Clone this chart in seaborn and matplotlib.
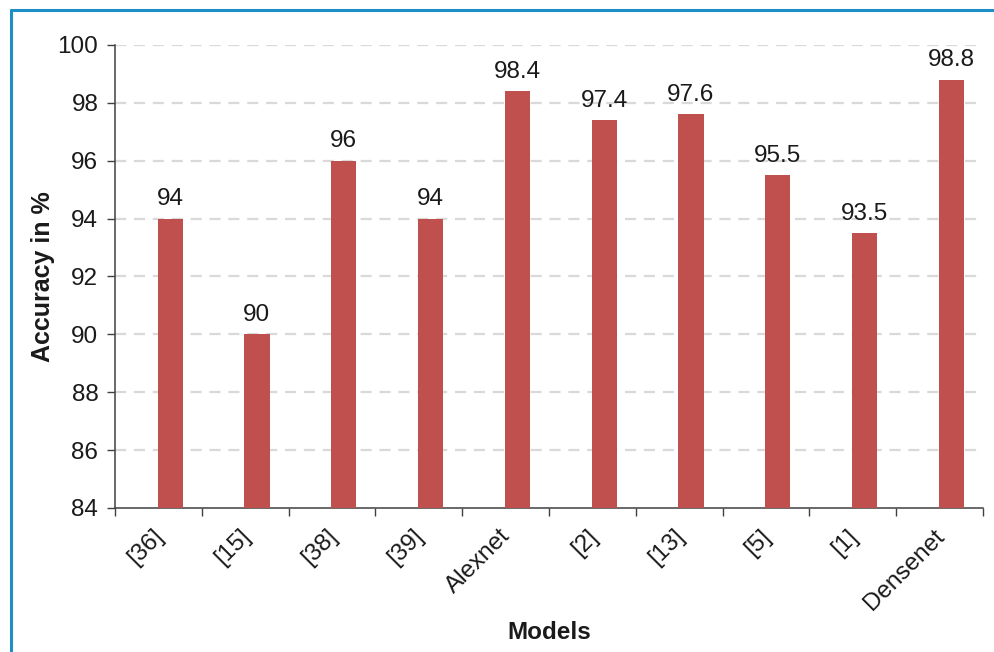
import matplotlib
matplotlib.use("Agg")
import matplotlib.pyplot as plt
from matplotlib.lines import Line2D
import numpy as np
import pandas as pd
import seaborn as sns

models = ["[36]", "[15]", "[38]", "[39]", "Alexnet", "[2]", "[13]", "[5]", "[1]", "Densenet"]
accuracy = [94, 90, 96, 94, 98.4, 97.4, 97.6, 95.5, 93.5, 98.8]
value_labels = ["94", "90", "96", "94", "98.4", "97.4", "97.6", "95.5", "93.5", "98.8"]
y_ticks = [84, 86, 88, 90, 92, 94, 96, 98, 100]

sns.set_theme(style="white")
plt.rcParams["font.family"] = ["Liberation Sans", "DejaVu Sans"]

FS = 17.5
TXT = "#1a1a1a"

df = pd.DataFrame({"Models": models, "Accuracy": accuracy})

fig = plt.figure(figsize=(9.94, 6.52), dpi=100)
ax = fig.add_axes([0.1157, 0.2209, 0.8733, 0.7101])

sns.barplot(data=df, x="Models", y="Accuracy", color="#C0504D", saturation=1,
            width=0.29, ax=ax, zorder=3)

# bars sit slightly right of the category centre
for p in ax.patches:
    p.set_x(p.get_x() + 0.135)
    p.set_edgecolor("none")

ax.bar_label(ax.containers[0], labels=value_labels, padding=6,
             fontsize=FS, color=TXT)

n = len(models)
ax.set_xlim(-0.5, n - 0.5)
ax.set_ylim(84, 100)
ax.set_yticks(y_ticks)
ax.set_yticklabels([str(t) for t in y_ticks], fontsize=FS, color=TXT)

# tick marks on category boundaries, labels at centres
ax.set_xticks(np.arange(n + 1) - 0.5)
ax.set_xticklabels([""] * (n + 1))
ax.set_xticks(np.arange(n) + 0.02, minor=True)
ax.set_xticklabels(models, minor=True, rotation=45, ha="right", va="center",
                   rotation_mode="anchor", fontsize=FS, color=TXT)
ax.tick_params(axis="x", which="major", direction="out", length=6, width=1,
               color="#404040", bottom=True)
ax.tick_params(axis="x", which="minor", length=0, pad=18, bottom=True)
ax.tick_params(axis="y", direction="out", length=6, width=1, color="#404040",
               left=True, pad=6)

for y in y_ticks[1:]:
    ax.axhline(y, color="#D9D9D9", lw=1.6, ls=(0, (5, 3.5)), zorder=1,
               xmax=0.995)

for s in ["top", "right"]:
    ax.spines[s].set_visible(False)
for s in ["left", "bottom"]:
    ax.spines[s].set_color("#404040")
    ax.spines[s].set_linewidth(1.1)

ax.set_xlabel("Models", fontsize=FS, fontweight="bold", color=TXT)
ax.set_ylabel("Accuracy in %", fontsize=18, fontweight="bold", color=TXT)
ax.xaxis.set_label_coords(0.5, -0.244)
ax.yaxis.set_label_coords(-0.069, 0.5)

# frame lines along the top and left of the figure
fig.add_artist(Line2D([11 / 994, 1.0], [1 - 10 / 652, 1 - 10 / 652],
                      transform=fig.transFigure, color="#1E8FC6", lw=2.2))
fig.add_artist(Line2D([11 / 994, 11 / 994], [0, 1 - 10 / 652],
                      transform=fig.transFigure, color="#1E8FC6", lw=2.2))

fig.savefig("out.png", dpi=100, facecolor="white")
